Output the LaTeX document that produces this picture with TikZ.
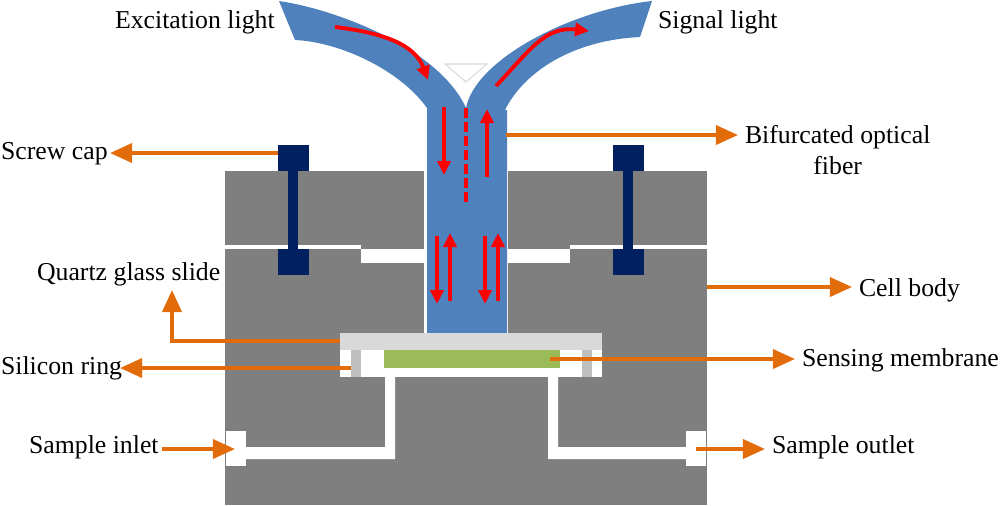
\documentclass[tikz,border=0pt]{standalone}
\usepackage{fontspec}
\setmainfont{Liberation Serif}
\usetikzlibrary{arrows.meta, calc}
\definecolor{fiberblue}{HTML}{4F81BD}
\definecolor{capnavy}{HTML}{002060}
\definecolor{bodygray}{HTML}{7F7F7F}
\definecolor{slidegray}{HTML}{D9D9D9}
\definecolor{ringgray}{HTML}{BFBFBF}
\definecolor{membgreen}{HTML}{9BBB59}
\definecolor{leadorange}{HTML}{E36C0A}
\definecolor{lightred}{HTML}{FF0000}

\begin{document}
\begin{tikzpicture}[x=0.01cm, y=-0.01cm,
  leader/.style={leadorange, line width=1pt, -{Triangle[length=2.2mm, width=1.9mm]}},
  ray/.style={lightred, line width=1.1pt, -{Triangle[length=1.4mm, width=1.3mm]}},
  lbl/.style={inner sep=0pt, outer sep=2pt, text=black, font=\fontsize{7.33}{8.6}\selectfont}]

\useasboundingbox (0,0) rectangle (1000,505);

% Cell body
\fill[bodygray] (225,171) rectangle (707,505);

% White gap under the screw cap
\fill[white] (225,245) rectangle (361,249);
\fill[white] (570,245) rectangle (707,249);
\fill[white] (361,249) rectangle (424,263);
\fill[white] (508,249) rectangle (570,263);
\fill[white] (424,171) rectangle (508,333);

% Screws
\foreach \sx in {278,613} {
  \fill[capnavy] (\sx,145) rectangle ++(31,26);
  \fill[capnavy] (\sx+10,171) rectangle ++(10,78);
  \fill[capnavy] (\sx,249) rectangle ++(31,26);
}

% Bifurcated fiber
\fill[fiberblue] (279,1) .. controls (340,10) and (440,50) .. (466,108)
  .. controls (475,60) and (570,10) .. (652,1)
  -- (640,37) .. controls (575,40) and (525,70) .. (505,110)
  -- (507,110) -- (507,333) -- (427,333) -- (427,108)
  .. controls (400,70) and (340,42) .. (295,40) -- cycle;
\filldraw[white, draw=slidegray, line width=0.3pt] (445,64) -- (487,64) -- (466,82) -- cycle;

% Cavity under the slide
\fill[white] (340,350) rectangle (602,377);
\fill[slidegray] (340,333) rectangle (602,350);
\fill[membgreen] (384,350) rectangle (560,368);
\fill[ringgray] (351,350) rectangle (361,377);
\fill[ringgray] (582,350) rectangle (592,377);

% Sample channels
\fill[white] (385,377) -- (395,377) -- (395,459) -- (246,459) -- (246,447) -- (385,447) -- cycle;
\fill[white] (548,377) -- (558,377) -- (558,447) -- (686,447) -- (686,459) -- (548,459) -- cycle;
\fill[white] (226,431) rectangle (246,466);
\fill[white] (686,431) rectangle (706,466);

% Light paths
\draw[ray] (335,27) .. controls (385,33) and (415,45) .. (428,80);
\draw[ray] (496,86) .. controls (530,50) and (545,26) .. (589,31);
\draw[lightred, line width=1pt, dash pattern=on 2.8pt off 1.2pt] (466,108) -- (466,203);
\draw[ray] (444,107) -- (444,175);
\draw[ray] (487,177) -- (487,109);
\foreach \px in {437,485} {
  \draw[ray] (\px,236) -- (\px,304);
  \draw[ray] (\px+13,301) -- (\px+13,233);
}

% Labels
\node[lbl, anchor=west] (excit) at (108,22) {Excitation light};
\node[lbl, anchor=west] (signal) at (651,22) {Signal light};
\node[lbl, align=center, anchor=west] (fiber) at (738,150) {Bifurcated optical\\fiber};
\node[lbl, anchor=west] (cap) at (-6,154) {Screw cap};
\node[lbl, anchor=west] (quartz) at (30,274) {Quartz glass slide};
\node[lbl, anchor=west] (silicon) at (-6,368) {Silicon ring};
\node[lbl, anchor=west] (inlet) at (22,447) {Sample inlet};
\node[lbl, anchor=west] (cell) at (852,290) {Cell body};
\node[lbl, anchor=west] (sensing) at (795,360) {Sensing membrane};
\node[lbl, anchor=west] (outlet) at (765,447) {Sample outlet};

% Leader start points
\coordinate (capS) at (278,153);
\coordinate (capE) at (110,153);
\coordinate (fiberS) at (506,135);
\coordinate (cellS) at (707,287);
\coordinate (quartzS) at (340,341);
\coordinate (siliconS) at (351,368);
\coordinate (siliconE) at (120,368);
\coordinate (sensingS) at (550,359);
\coordinate (inletS) at (162,449);
\coordinate (inletE) at (235,449);
\coordinate (outletS) at (696,449);

% Leaders
\draw[leader] (capS) -- (capE);
\draw[leader] (fiberS) -- (fiberS -| fiber.west);
\draw[leader] (cellS) -- (cellS -| cell.west);
\draw[leader] (quartzS) -- (172,341) -- (172,290);
\draw[leader] (siliconS) -- (siliconE);
\draw[leader] (sensingS) -- (sensingS -| sensing.west);
\draw[leader] (inletS) -- (inletE);
\draw[leader] (outletS) -- (outletS -| outlet.west);

\end{tikzpicture}
\end{document}
